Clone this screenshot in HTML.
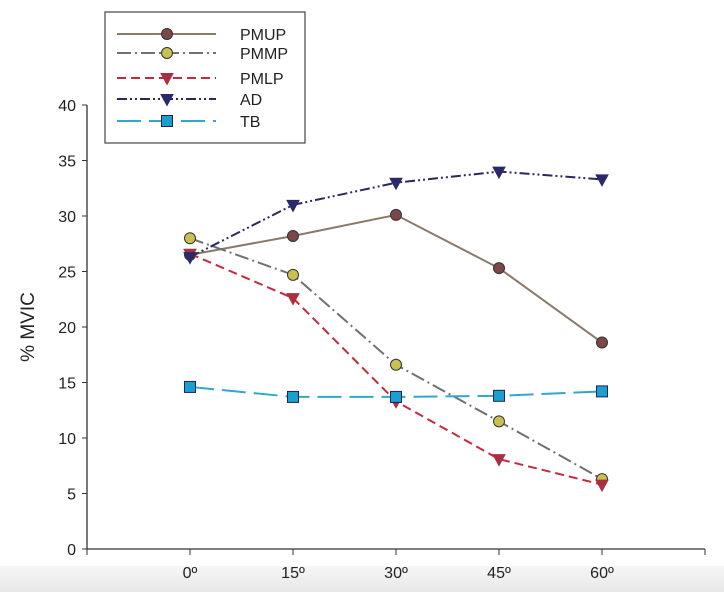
<!DOCTYPE html>
<html><head><meta charset="utf-8"><style>
body{margin:0;width:724px;height:592px;background:#fff;overflow:hidden;font-family:"Liberation Sans",sans-serif}
#band{position:absolute;left:0;top:566px;width:724px;height:26px;background:linear-gradient(#f6f6f6,#e8e8e8)}
</style></head><body>
<div id="band"></div>
<svg id="c" width="724" height="592" style="position:absolute;left:0;top:0"></svg>
<script>
const categories=["0º","15º","30º","45º","60º"];
const yTicks=[0,5,10,15,20,25,30,35,40];
const seriesNames=["PMUP","PMMP","PMLP","AD","TB"];
const PMUP=[26.5,28.2,30.1,25.3,18.6];
const PMMP=[28.0,24.7,16.6,11.5,6.3];
const PMLP=[26.6,22.6,13.3,8.1,5.8];
const AD=[26.3,31.0,33.0,34.0,33.3];
const TB=[14.6,13.7,13.7,13.8,14.2];
const styles=[
 {c:"#8a7a6a",dash:"",m:"circle",f:"#7a4848"},
 {c:"#707070",dash:"14 4 2 4",m:"circle",f:"#c8c050"},
 {c:"#c8283c",dash:"9 5",m:"tri",f:"#a83040"},
 {c:"#2a2a5a",dash:"10 3 2 3 2 3",m:"tri",f:"#2a2a6a"},
 {c:"#30a8c8",dash:"24 8",m:"sq",f:"#1aa0d0"}];
const data=[PMUP,PMMP,PMLP,AD,TB];
const NS="http://www.w3.org/2000/svg",svg=document.getElementById("c");
const X=i=>190+i*103, Y=v=>549-v*11.1;
function el(t,a,p){const e=document.createElementNS(NS,t);for(const k in a)e.setAttribute(k,a[k]);(p||svg).appendChild(e);return e;}
function marker(type,x,y,s,g){
 if(type=="circle")return el("circle",{cx:x,cy:y,r:5.5,fill:s.f,stroke:"#333","stroke-width":1},g);
 if(type=="tri")return el("path",{d:`M${x-6},${y-4.5}L${x+6},${y-4.5}L${x},${y+6.5}Z`,fill:s.f,stroke:s.f},g);
 return el("rect",{x:x-5.5,y:y-5.5,width:11,height:11,fill:s.f,stroke:"#225","stroke-width":1},g);
}
const ax=el("g",{});


el("line",{x1:87,y1:105,x2:87,y2:549,stroke:"#333","stroke-width":1.3},ax);
el("line",{x1:87,y1:549,x2:705,y2:549,stroke:"#333","stroke-width":1.3},ax);
yTicks.forEach(v=>{el("line",{x1:82,y1:Y(v),x2:87,y2:Y(v),stroke:"#333"},ax);
 const t=el("text",{x:76,y:Y(v)+6,"text-anchor":"end","font-size":16,fill:"#222"},ax);t.textContent=v;
 });
[-1,0,1,2,3,4,5].forEach(i=>el("line",{x1:X(i),y1:549,x2:X(i),y2:555,stroke:"#333"},ax));
categories.forEach((c,i)=>{const t=el("text",{x:X(i),y:578,"text-anchor":"middle","font-size":16,fill:"#222"},ax);t.textContent=c;
 });
const yt=el("text",{x:34,y:327,"text-anchor":"middle","font-size":19,fill:"#222",transform:"rotate(-90 34 327)"});yt.textContent="% MVIC";

data.forEach((d,k)=>{const s=styles[k];const g=el("g",{});
 
 
 el("polyline",{points:d.map((v,i)=>X(i)+","+Y(v)).join(" "),fill:"none",stroke:s.c,"stroke-width":2,"stroke-dasharray":s.dash},g);
 d.forEach((v,i)=>{const m=marker(s.m,X(i),Y(v),s,g);});
});
const lg=el("g",{});


el("rect",{x:105,y:12,width:200,height:131,fill:"#fff",stroke:"#444","stroke-width":1.2},lg);
const rows=[34,53,78,99,121];
seriesNames.forEach((n,k)=>{const s=styles[k];const g=el("g",{},lg);
 
 
 el("line",{x1:117,y1:rows[k],x2:216,y2:rows[k],stroke:s.c,"stroke-width":2,"stroke-dasharray":s.dash},g);
 marker(s.m,167,rows[k],s,g);
 const t=el("text",{x:240,y:rows[k]+6,"font-size":16,fill:"#222"},g);t.textContent=n;});
</script>
</body></html>
